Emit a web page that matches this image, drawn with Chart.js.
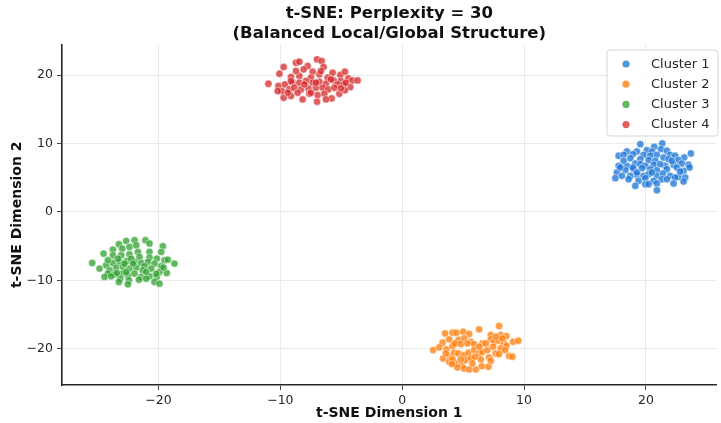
<!DOCTYPE html>
<html>
<head>
<meta charset="utf-8">
<script src="https://cdn.jsdelivr.net/npm/chart.js@4.4.1/dist/chart.umd.min.js"></script>
<style>
  html, body { margin: 0; padding: 0; background: #ffffff; }
  #wrap { width: 721px; height: 423px; }
</style>
</head>
<body>
<div id="wrap"><canvas id="c" width="721" height="423"></canvas></div>
<script>
// ---- data ----
const seriesLabels = ['Cluster 1', 'Cluster 2', 'Cluster 3', 'Cluster 4'];
const xTicks = [-20, -10, 0, 10, 20];
const yTicks = [-20, -10, 0, 10, 20];

const c1x = [19.54,20.68,21.34,21.23,20.08,20.49,21.72,18.44,19.26,18.93,17.76,18.17,19.81,20.36,20.9,21.99,22.4,23.14,23.69,18.72,19.54,20.22,20.77,21.45,21.86,22.68,17.76,18.44,19.13,19.54,19.95,20.63,21.58,22.27,22.95,23.5,23.58,18.31,18.99,19.67,20.36,20.9,21.72,22.54,23.09,17.62,18.03,18.72,19.26,19.81,20.22,20.9,21.39,21.99,22.68,23.22,17.49,18.58,19.4,19.95,20.63,21.31,22.4,23.09,19.13,19.95,20.9,22.27,20.9,18.93,21.17,22.13,18.17,17.9,22.81,19.26,20.49,21.72,20.22];
const c1y = [9.9,9.51,10.0,9.17,9.02,8.83,8.93,8.83,8.83,8.44,8.2,8.34,8.34,8.2,8.34,8.34,8.2,7.95,8.54,7.85,7.71,7.56,7.46,7.95,7.71,7.56,6.73,6.73,7.07,6.98,6.73,6.88,6.73,6.88,7.07,6.88,6.49,6.1,6.24,6.39,6.24,6.1,6.24,6.49,6.0,5.76,5.27,5.27,5.41,5.27,5.51,5.27,5.61,5.27,5.12,5.02,4.93,4.78,4.54,4.93,4.54,4.78,5.02,4.44,3.8,4.05,4.15,4.15,3.17,6.49,6.98,7.46,7.46,6.49,5.9,5.76,5.76,4.78,4.05];

const c2x = [2.54,3.31,3.52,3.85,4.13,4.45,4.62,5.0,5.49,5.08,5.63,6.31,6.58,7.27,7.95,8.09,8.55,9.1,9.53,3.63,4.13,4.34,4.81,5.35,5.9,7.27,7.54,7.95,8.36,8.55,3.36,3.91,4.26,4.62,5.08,5.44,5.9,6.31,6.58,6.99,7.46,8.09,8.44,7.68,3.85,4.4,4.89,5.22,5.63,5.98,6.45,7.13,7.95,8.77,9.04,4.53,5.08,5.49,6.04,6.53,7.08,5.76,4.81,4.13,6.86,7.68,6.31,8.22,3.03,3.58,7.27,4.07];
const c2y = [-20.2,-19.12,-17.76,-18.63,-17.66,-17.66,-18.73,-17.51,-17.85,-18.49,-18.98,-17.17,-19.22,-18.0,-16.68,-18.0,-18.15,-18.98,-18.83,-20.1,-19.61,-19.22,-19.32,-19.22,-19.32,-18.63,-18.98,-18.83,-19.22,-19.61,-21.41,-21.17,-20.59,-20.68,-20.93,-20.59,-20.2,-20.68,-20.44,-20.2,-19.71,-19.95,-20.2,-20.68,-21.9,-22.15,-22.39,-21.66,-21.41,-21.17,-21.56,-21.27,-20.78,-21.07,-21.17,-22.73,-22.88,-23.02,-23.02,-22.54,-22.63,-22.15,-21.56,-21.56,-19.22,-18.24,-19.71,-18.49,-19.8,-20.68,-21.76,-22.24];

const c3x = [-25.44,-24.51,-23.74,-23.25,-22.65,-21.97,-21.07,-20.74,-19.64,-19.78,-22.38,-22.98,-21.69,-20.74,-23.74,-23.06,-22.38,-21.56,-20.74,-20.14,-19.51,-19.23,-18.69,-24.29,-23.74,-23.2,-22.6,-21.97,-21.42,-20.87,-20.33,-19.78,-24.02,-23.47,-22.92,-22.38,-21.83,-21.15,-20.6,-19.92,-19.32,-24.15,-23.61,-22.98,-22.51,-21.97,-21.42,-20.74,-20.14,-24.43,-23.88,-23.14,-22.43,-21.61,-20.33,-19.92,-23.25,-22.51,-21.01,-23.33,-24.15,-22.24,-21.28,-20.19,-24.84,-22.65,-21.01,-21.83,-22.79,-23.42,-19.59,-22.1];
const c3y = [-7.46,-6.1,-5.51,-4.73,-4.24,-4.15,-4.15,-4.63,-5.02,-5.85,-5.12,-5.37,-5.85,-5.85,-6.34,-6.34,-6.2,-6.59,-6.68,-6.83,-7.07,-6.98,-7.56,-7.8,-7.46,-7.32,-7.17,-7.32,-7.46,-7.32,-7.56,-7.95,-8.54,-8.15,-8.05,-8.29,-8.15,-7.95,-8.29,-8.78,-8.93,-9.02,-9.12,-9.02,-9.27,-9.02,-9.51,-9.41,-9.51,-9.51,-9.41,-9.76,-10.0,-9.9,-10.24,-10.49,-10.24,-10.59,-9.76,-6.83,-7.07,-6.83,-8.54,-9.02,-8.29,-8.78,-8.78,-4.88,-7.56,-8.93,-8.15,-7.56];

const c4x = [-10.98,-10.08,-9.73,-8.72,-8.44,-7.76,-6.99,-6.61,-6.45,-8.09,-7.35,-6.8,-5.71,-5.08,-4.7,-9.13,-8.44,-7.49,-6.12,-5.63,-5.03,-4.43,-4.07,-3.66,-10.16,-9.62,-8.99,-8.44,-7.9,-7.35,-6.8,-6.26,-5.85,-5.3,-4.81,-4.26,-9.89,-9.26,-8.85,-8.31,-7.7,-7.08,-6.53,-6.07,-5.16,-4.7,-9.73,-9.13,-8.17,-7.62,-6.94,-6.39,-5.79,-6.99,-7.49,-8.58,-9.4,-5.57,-5.03,-8.03,-6.67,-7.08,-8.72,-9.13,-4.62,-6.26,-10.22];
const c4y = [18.73,20.2,21.17,21.8,21.95,21.32,22.29,22.05,21.17,20.83,20.49,20.1,20.34,20.0,20.49,19.71,19.85,19.61,19.61,19.22,19.12,19.51,19.22,19.22,18.39,18.63,18.88,18.88,19.12,18.88,19.02,18.73,19.37,18.63,18.63,18.24,17.66,17.9,18.15,17.9,18.05,18.15,18.15,17.9,17.27,17.76,16.68,16.93,16.44,17.27,17.07,17.27,16.59,16.1,17.41,17.41,17.41,18.15,18.05,18.63,20.59,18.88,20.59,19.12,18.88,16.44,17.66];

// ---- style ----
const colors = ['rgba(31,119,214,0.78)', 'rgba(255,127,14,0.78)', 'rgba(44,160,44,0.75)', 'rgba(214,39,40,0.75)'];
const FONT = '"DejaVu Sans", "Liberation Sans", sans-serif';

function pts(xs, ys) { return xs.map((x, i) => ({ x: x, y: ys[i] })); }
const seriesData = [pts(c1x, c1y), pts(c2x, c2y), pts(c3x, c3y), pts(c4x, c4y)];

const fmt = v => (v < 0 ? '\u2212' + Math.abs(v) : String(v));

const legendPlugin = {
  id: 'boxLegend',
  afterDraw(chart) {
    const ctx = chart.ctx;
    const bx = 607, by = 50, bw = 111, bh = 86, r = 3;
    ctx.save();
    ctx.beginPath();
    ctx.moveTo(bx + r, by);
    ctx.arcTo(bx + bw, by, bx + bw, by + bh, r);
    ctx.arcTo(bx + bw, by + bh, bx, by + bh, r);
    ctx.arcTo(bx, by + bh, bx, by, r);
    ctx.arcTo(bx, by, bx + bw, by, r);
    ctx.closePath();
    ctx.fillStyle = 'rgba(255,255,255,0.85)';
    ctx.fill();
    ctx.strokeStyle = '#d6d6d6';
    ctx.lineWidth = 1;
    ctx.stroke();
    ctx.font = '13px ' + FONT;
    ctx.textBaseline = 'middle';
    ctx.textAlign = 'left';
    chart.data.datasets.forEach((ds, i) => {
      const y = 64 + i * 20.2;
      ctx.beginPath();
      ctx.arc(626, y, 3.6, 0, Math.PI * 2);
      ctx.fillStyle = ds.backgroundColor;
      ctx.fill();
      ctx.fillStyle = '#262626';
      ctx.fillText(ds.label, 651, y + 0.5);
    });
    ctx.restore();
  }
};

new Chart(document.getElementById('c'), {
  type: 'scatter',
  data: {
    datasets: seriesLabels.map((lab, i) => ({
      label: lab,
      data: seriesData[i],
      backgroundColor: colors[i],
      borderColor: 'rgba(255,255,255,0.75)',
      borderWidth: 0.7,
      pointRadius: 3.7,
      pointHoverRadius: 3.7
    }))
  },
  options: {
    responsive: false,
    animation: false,
    devicePixelRatio: 1,
    layout: { padding: { left: 0, right: 1, top: 0, bottom: 0 } },
    plugins: {
      legend: { display: false },
      tooltip: { enabled: false },
      title: {
        display: true,
        fullSize: false,
        text: ['t-SNE: Perplexity = 30', '(Balanced Local/Global Structure)'],
        font: { family: FONT, size: 16.5, weight: 'bold', lineHeight: 1.2 },
        color: '#111111',
        padding: { top: 4, bottom: 1 }
      }
    },
    scales: {
      x: {
        type: 'linear',
        min: -27.92,
        max: 25.8,
        afterBuildTicks: s => { s.ticks = xTicks.map(v => ({ value: v })); },
        afterFit: s => { s.height = 38; },
        ticks: { callback: v => fmt(v), font: { family: FONT, size: 12.5 }, color: '#262626', padding: 3, maxRotation: 0, autoSkip: false },
        grid: { color: '#e8e8e8', lineWidth: 0.9, tickColor: '#333333', tickLength: 5 },
        border: { color: '#262626', width: 1.6 },
        title: { display: true, text: 't-SNE Dimension 1', font: { family: FONT, size: 14, weight: 'bold' }, color: '#111111', padding: { top: 0, bottom: 1 } }
      },
      y: {
        type: 'linear',
        min: -25.3,
        max: 24.45,
        afterBuildTicks: s => { s.ticks = yTicks.map(v => ({ value: v })); },
        afterFit: s => { s.width = 62; },
        ticks: { callback: v => fmt(v), font: { family: FONT, size: 12.5 }, color: '#262626', padding: 4, autoSkip: false },
        grid: { color: '#e8e8e8', lineWidth: 0.9, tickColor: '#333333', tickLength: 5 },
        border: { color: '#262626', width: 1.6 },
        title: { display: true, text: 't-SNE Dimension 2', font: { family: FONT, size: 14, weight: 'bold' }, color: '#111111', padding: { top: 9, bottom: 0 } }
      }
    }
  },
  plugins: [legendPlugin]
});
</script>
</body>
</html>
